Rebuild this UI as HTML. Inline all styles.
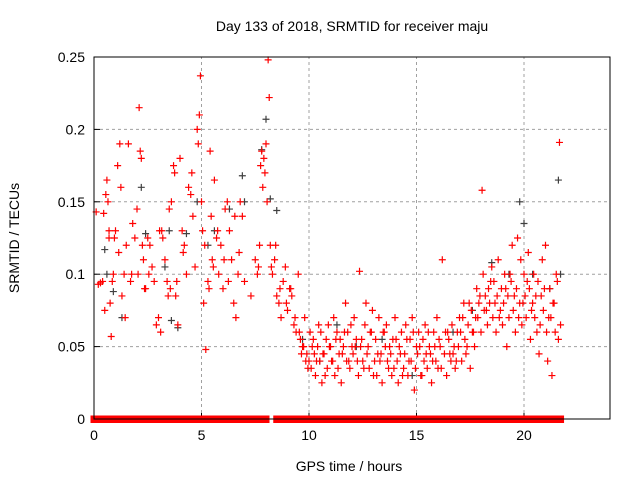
<!DOCTYPE html>
<html><head><meta charset="utf-8"><style>
body{margin:0;background:#fff;font-family:"Liberation Sans",sans-serif}
svg text{font-family:"Liberation Sans",sans-serif;font-size:14px;fill:#000}
</style></head><body>
<svg id="chart" width="640" height="480" viewBox="0 0 640 480">
<rect width="640" height="480" fill="#fff"/>
<text x="352" y="31" text-anchor="middle">Day 133 of 2018, SRMTID for receiver maju</text>
<g id="grid"></g>
<g id="ticks"></g>
<g id="zero"></g>
<g id="blk"></g>
<g id="red"></g>
<rect x="94" y="57" width="516" height="362" fill="none" stroke="#000" stroke-width="1"/>
<text x="349" y="471" text-anchor="middle">GPS time / hours</text>
<text transform="translate(19,238) rotate(-90)" text-anchor="middle">SRMTID / TECUs</text>
</svg>
<script>
const xTicks=[0,5,10,15,20];
const yTicks=[0,0.05,0.1,0.15,0.2,0.25];
const yTickLabels=["0","0.05","0.1","0.15","0.2","0.25"];
const zeroRanges=[[0,0.9],[1.0,1.2],[1.4,2.0],[2.2,2.75],[2.8,3.5],[3.6,4.5],[4.6,6.0],[6.05,6.3],[6.4,6.95],[7.0,7.2],[7.3,7.5],[7.6,8.0],[8.5,9.25],[9.3,9.5],[9.55,10.0],[10.1,10.6],[10.65,11.35],[11.45,11.6],[11.7,12.2],[12.4,12.8],[12.85,13.2],[13.3,13.95],[14.0,14.2],[14.3,14.6],[14.7,15.0],[15.05,15.5],[15.6,15.9],[16.05,16.3],[16.4,16.7],[16.8,17.05],[17.3,17.6],[17.65,18.2],[18.3,18.6],[18.75,19.0],[19.1,19.25],[19.35,19.6],[19.7,19.9],[20.0,20.2],[20.4,20.8],[21.1,21.7]];
const redT=[0.1,0.2,0.3,0.45,0.5,0.55,0.6,0.65,0.7,0.75,0.8,0.85,0.9,0.95,1.0,1.1,1.15,1.2,1.3,1.4,1.45,1.5,1.6,1.7,1.8,1.9,2.0,2.05,2.1,2.15,2.2,2.25,2.3,2.4,2.5,2.55,2.7,2.8,2.9,3.0,3.1,3.15,3.2,3.3,3.4,3.5,3.55,3.6,3.7,3.75,3.8,3.9,4.0,4.1,4.2,4.3,4.4,4.5,4.6,4.7,4.8,4.85,4.9,4.95,5.0,5.05,5.1,5.2,5.3,5.4,5.45,5.5,5.6,5.7,5.8,5.9,6.0,6.1,6.2,6.3,6.4,6.5,6.6,6.7,6.8,6.9,7.0,7.3,7.5,7.6,7.7,7.75,7.8,7.85,7.9,8.0,8.05,8.1,8.15,8.2,8.3,8.4,8.5,8.6,8.7,8.8,8.9,9.0,9.1,9.2,9.3,9.4,9.5,9.6,9.7,9.8,9.9,10.0,10.05,10.1,10.2,10.25,10.3,10.4,10.5,10.55,10.6,10.7,10.8,10.85,10.9,11.0,11.1,11.15,11.2,11.3,11.4,11.45,11.5,11.6,11.7,11.75,11.8,11.9,12.0,12.05,12.1,12.2,12.3,12.35,12.4,12.5,12.6,12.65,12.7,12.8,12.9,12.95,13.0,13.1,13.2,13.25,13.3,13.4,13.5,13.55,13.6,13.7,13.8,13.85,13.9,14.0,14.1,14.15,14.2,14.3,14.4,14.45,14.5,14.6,14.7,14.75,14.8,14.9,15.0,15.05,15.1,15.2,15.3,15.35,15.4,15.5,15.6,15.65,15.7,15.8,15.9,15.95,16.0,16.1,16.2,16.3,16.35,16.4,16.5,16.6,16.65,16.7,16.8,16.9,16.95,17.0,17.1,17.2,17.25,17.3,17.4,17.5,17.55,17.6,17.7,17.8,17.85,17.9,18.0,18.05,18.1,18.2,18.25,18.3,18.35,18.4,18.5,18.55,18.6,18.7,18.75,18.8,18.9,18.95,19.0,19.05,19.1,19.2,19.25,19.3,19.4,19.45,19.5,19.6,19.65,19.7,19.8,19.85,19.9,20.0,20.05,20.1,20.2,20.25,20.3,20.4,20.45,20.5,20.6,20.65,20.7,20.8,20.85,20.9,21.0,21.05,21.1,21.2,21.25,21.3,21.4,21.5,21.6,21.65,21.7];
const redV=[0.143,0.093,0.094,0.142,0.075,0.155,0.165,0.150,0.130,0.080,0.057,0.095,0.100,0.125,0.130,0.175,0.115,0.190,0.085,0.100,0.070,0.120,0.190,0.095,0.135,0.125,0.145,0.100,0.215,0.185,0.180,0.120,0.110,0.090,0.125,0.100,0.105,0.095,0.065,0.070,0.060,0.130,0.125,0.110,0.095,0.145,0.090,0.150,0.175,0.170,0.085,0.065,0.180,0.130,0.120,0.100,0.160,0.155,0.140,0.105,0.200,0.190,0.210,0.237,0.150,0.130,0.080,0.048,0.095,0.185,0.140,0.110,0.165,0.125,0.100,0.120,0.090,0.145,0.150,0.130,0.110,0.080,0.070,0.100,0.150,0.140,0.095,0.085,0.110,0.100,0.120,0.175,0.185,0.160,0.180,0.190,0.150,0.248,0.222,0.120,0.100,0.110,0.085,0.080,0.070,0.095,0.105,0.075,0.090,0.085,0.065,0.060,0.100,0.055,0.050,0.070,0.045,0.040,0.060,0.035,0.055,0.045,0.030,0.050,0.040,0.060,0.025,0.045,0.055,0.035,0.065,0.050,0.040,0.070,0.030,0.060,0.045,0.055,0.025,0.050,0.080,0.040,0.060,0.035,0.050,0.045,0.070,0.055,0.030,0.102,0.050,0.040,0.065,0.080,0.045,0.035,0.060,0.075,0.030,0.055,0.045,0.070,0.040,0.025,0.060,0.050,0.065,0.035,0.045,0.030,0.055,0.070,0.040,0.025,0.050,0.060,0.035,0.045,0.065,0.030,0.055,0.040,0.070,0.020,0.050,0.045,0.060,0.030,0.055,0.040,0.065,0.035,0.050,0.045,0.025,0.060,0.040,0.070,0.035,0.050,0.110,0.045,0.060,0.030,0.055,0.040,0.065,0.045,0.035,0.060,0.050,0.070,0.040,0.080,0.055,0.045,0.065,0.035,0.075,0.060,0.050,0.090,0.070,0.080,0.060,0.158,0.100,0.085,0.075,0.065,0.090,0.080,0.105,0.070,0.095,0.060,0.085,0.110,0.075,0.090,0.065,0.080,0.100,0.050,0.085,0.070,0.095,0.120,0.075,0.060,0.090,0.125,0.080,0.110,0.065,0.100,0.085,0.070,0.115,0.090,0.055,0.080,0.100,0.070,0.060,0.095,0.045,0.085,0.110,0.075,0.120,0.060,0.040,0.090,0.070,0.030,0.080,0.100,0.055,0.191,0.065,0.080];
const redT2=[0.4,0.7,1.25,1.75,2.35,2.6,3.05,3.45,3.85,4.15,4.55,5.15,5.35,5.55,5.75,6.05,6.25,6.55,6.75,7.65,7.95,8.25,8.45,8.65,8.95,9.15,9.35,9.55,9.65,9.75,9.85,9.95,10.15,10.35,10.45,10.65,10.75,10.95,11.05,11.25,11.35,11.55,11.65,11.85,11.95,12.15,12.25,12.45,12.55,12.75,12.85,13.05,13.15,13.35,13.45,13.65,13.75,13.95,14.05,14.25,14.35,14.55,14.65,14.85,14.95,15.15,15.25,15.45,15.55,15.75,15.85,16.05,16.15,16.45,16.55,16.75,16.85,17.05,17.15,17.35,17.45,17.65,17.75,17.95,18.15,18.45,18.65,18.85,19.15,19.35,19.55,19.75,19.95,20.15,20.35,20.55,20.75,20.95,21.15,21.35,21.45,21.55];
const redV2=[0.095,0.125,0.160,0.100,0.090,0.120,0.130,0.085,0.095,0.115,0.170,0.120,0.090,0.105,0.130,0.110,0.095,0.140,0.115,0.105,0.170,0.105,0.120,0.090,0.080,0.090,0.070,0.060,0.045,0.050,0.040,0.035,0.050,0.040,0.065,0.045,0.030,0.050,0.040,0.055,0.035,0.045,0.060,0.040,0.065,0.050,0.040,0.055,0.035,0.050,0.060,0.040,0.030,0.045,0.060,0.040,0.050,0.035,0.055,0.045,0.030,0.055,0.040,0.060,0.035,0.050,0.030,0.045,0.060,0.040,0.050,0.055,0.035,0.060,0.045,0.050,0.040,0.060,0.070,0.050,0.080,0.060,0.070,0.085,0.075,0.095,0.080,0.070,0.090,0.100,0.085,0.070,0.080,0.095,0.075,0.085,0.065,0.090,0.070,0.080,0.060,0.095];
const blkT=[0.5,0.6,0.9,1.3,2.2,2.4,3.3,3.5,3.6,3.9,4.3,4.8,5.3,5.6,6.3,6.9,7.0,7.8,8.0,8.2,8.5,9.7,10.5,11.3,12.2,13.4,14.8,16.7,17.6,18.5,19.3,19.8,20.0,20.4,21.2,21.6,21.7];
const blkV=[0.117,0.100,0.088,0.070,0.160,0.128,0.105,0.130,0.068,0.063,0.128,0.150,0.120,0.130,0.145,0.168,0.150,0.186,0.207,0.152,0.144,0.055,0.040,0.065,0.050,0.055,0.030,0.060,0.075,0.108,0.100,0.150,0.135,0.100,0.090,0.165,0.100];
const X0=94,X1=610,XMAX=24,Y0=419,Y1=57,YMAX=0.25;
function sx(t){return X0+(X1-X0)*t/XMAX}
function sy(v){return Y0-(Y0-Y1)*v/YMAX}
const NS="http://www.w3.org/2000/svg";
function mk(tag,attrs,parent){const e=document.createElementNS(NS,tag);for(const k in attrs)e.setAttribute(k,attrs[k]);parent.appendChild(e);return e}
const grid=document.getElementById('grid'),ticks=document.getElementById('ticks');
xTicks.forEach(t=>{const x=sx(t);
 if(t>0){const g=mk('line',{x1:x,y1:Y0,x2:x,y2:Y1,stroke:'#a0a0a0','stroke-dasharray':'3,3'},grid);
 
 }
 mk('line',{x1:x,y1:Y0,x2:x,y2:Y0-6,stroke:'#000'},ticks);
 const l=mk('text',{x:x,y:Y0+21,'text-anchor':'middle'},ticks);l.textContent=t;
 
 });
yTicks.forEach((v,i)=>{const y=sy(v);
 if(v>0&&v<YMAX){const g=mk('line',{x1:X0,y1:y,x2:X1,y2:y,stroke:'#a0a0a0','stroke-dasharray':'3,3'},grid);
 
 }
 mk('line',{x1:X0,y1:y,x2:X0+6,y2:y,stroke:'#000'},ticks);
 const l=mk('text',{x:X0-9,y:y+5,'text-anchor':'end'},ticks);l.textContent=yTickLabels[i];
 
 });
function plus(t,v,color,g){const x=sx(t),y=sy(v);
 return mk('path',{d:`M${x-3.5},${y}H${x+3.5}M${x},${y-3.5}V${y+3.5}`,stroke:color,'stroke-width':1.2,fill:'none'},g);}
const zg=document.getElementById('zero');
zeroRanges.forEach(r=>{const x1=sx(r[0]),x2=sx(r[1]);
 const z=mk('rect',{x:x1-3.5,y:Y0-3.5,width:x2-x1+7,height:7.5,fill:'#ff0000'},zg);
 
 });
const bg=document.getElementById('blk');
blkT.forEach((t,i)=>{const p=plus(t,blkV[i],'#404040',bg);
 
 });
const rg=document.getElementById('red');
redT.forEach((t,i)=>{const p=plus(t,redV[i],'#ff0000',rg);
 
 });
redT2.forEach((t,i)=>{const p=plus(t,redV2[i],'#ff0000',rg);
 
 });
</script>
</body></html>
